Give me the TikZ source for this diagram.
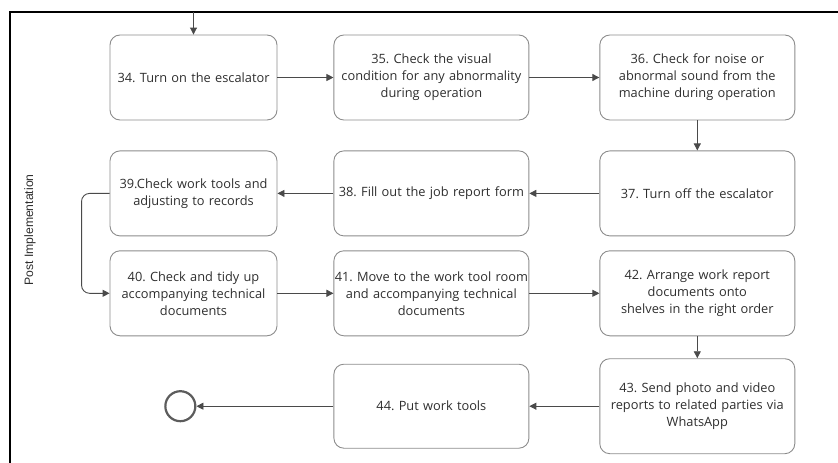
\documentclass[tikz,border=0pt]{standalone}
\usepackage{fontspec}
\setmainfont{Open Sans}
\newfontfamily\lanefont{Liberation Sans}
\usetikzlibrary{positioning,arrows.meta}
\definecolor{boxline}{HTML}{8C8C8C}
\definecolor{flowline}{HTML}{4A4A4A}
\definecolor{txt}{HTML}{2E2E2E}
\frenchspacing

\begin{document}
\begin{tikzpicture}[x=1pt,y=-1pt,font=\fontsize{12.8}{17}\selectfont,text=txt]
    % Define styles
    \tikzstyle{task} = [rectangle, draw=boxline, line width=0.9pt, rounded corners=10pt, minimum width=167pt, text width=167pt, align=center, minimum height=85pt, inner xsep=0pt, inner ysep=3pt]
    \tikzstyle{widetask} = [task, minimum width=195pt, text width=195pt]
    \tikzstyle{flow} = [flowline, line width=0.9pt, -{Triangle[length=7pt,width=7pt]}]
    \tikzstyle{finish} = [circle, draw=flowline!90, line width=2.2pt, minimum size=30pt, inner sep=0pt]

    \useasboundingbox (0,0) rectangle (838,463);
    % frame
    \draw[line width=2pt] (838,12) -- (10,12) -- (10,463);
    \node[rotate=90, font=\lanefont\fontsize{12.2}{14}\selectfont] (lane) at (30,230) {Post Implementation};

    % Tasks
    \node[task] (s34) at (193.5,77.5) {34. Turn on the escalator};
    \node[widetask, right=56pt of s34] (s35) {35. Check the visual\\condition for any abnormality\\during operation};
    \node[widetask, right=70pt of s35] (s36) {36. Check for noise or\\abnormal sound from the\\machine during operation};
    \node[widetask, below=30pt of s36] (s37) {37. Turn off the escalator};
    \node[widetask, left=70pt of s37] (s38) {38. Fill out the job report form};
    \node[task, left=56pt of s38] (s39) {39.Check work tools and\\adjusting to records};
    \node[widetask, below=14pt of s37] (s42) {42. Arrange work report\\documents onto\\shelves in the right order};
    \node[widetask, left=70pt of s42] (s41) {41. Move to the work tool room\\and accompanying technical\\documents};
    \node[task, left=56pt of s41] (s40) {40. Check and tidy up\\accompanying technical\\documents};
    \node[widetask, minimum height=95pt, below=22pt of s42] (s43) {43. Send photo and video\\reports to related parties via\\WhatsApp};
    \node[widetask, minimum height=84pt, left=70pt of s43] (s44) {44. Put work tools};
    \node[finish, left=137pt of s44] (stop) {};
    \coordinate (entry) at (193.5,12);

    % Arrows
    \draw[flow] (entry) -- (s34);
    \draw[flow] (s34) -- (s35);
    \draw[flow] (s35) -- (s36);
    \draw[flow] (s36) -- (s37);
    \draw[flow] (s37) -- (s38);
    \draw[flow] (s38) -- (s39);
    \draw[flow, rounded corners=8pt] (s39.west) -- ++(-28,0) |- (s40.west);
    \draw[flow] (s40) -- (s41);
    \draw[flow] (s41) -- (s42);
    \draw[flow] (s42) -- (s43);
    \draw[flow] (s43) -- (s44);
    \draw[flow] (s44) -- (stop);

\end{tikzpicture}
\end{document}
